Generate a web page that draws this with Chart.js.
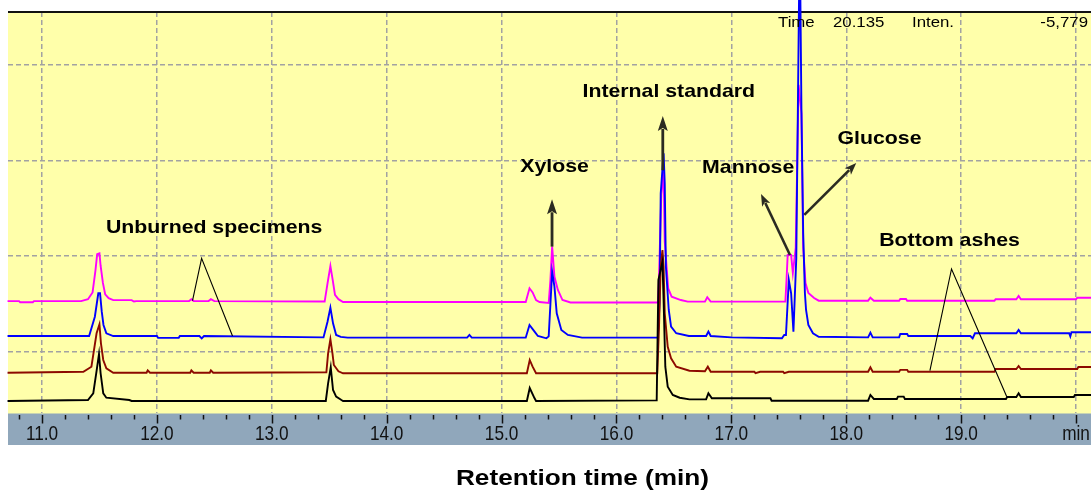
<!DOCTYPE html>
<html><head><meta charset="utf-8">
<script src="https://cdn.jsdelivr.net/npm/chart.js@4.4.1/dist/chart.umd.min.js"></script>
<style>html,body{margin:0;padding:0;background:#fff;}#wrap{width:1091px;height:491px;position:relative;}</style>
</head><body><div id="wrap"><canvas id="c"></canvas></div>
<script>
// ---- data (retention time in min, intensity in arbitrary units) ----
const pinkT = [10.70,10.80,10.81,10.92,10.93,11.34,11.40,11.44,11.465,11.48,11.50,11.51,11.53,11.55,11.58,11.62,11.78,11.80,11.82,12.28,12.30,12.32,12.45,12.47,12.50,13.46,13.485,13.51,13.53,13.55,13.58,13.62,15.21,15.243,15.27,15.30,15.33,15.41,15.425,15.44,15.46,15.49,15.53,15.60,16.36,16.37,16.39,16.41,16.42,16.45,16.48,16.56,16.62,16.77,16.79,16.82,17.47,17.48,17.49,17.52,17.535,17.56,17.585,17.61,17.625,17.645,17.67,17.72,17.76,18.19,18.21,18.24,18.46,18.47,18.52,18.53,19.29,19.30,19.48,19.50,19.52,20.00,20.01,20.13];
const pinkV = [153.0,153.0,151.8,151.8,153.0,153.0,155.0,162.0,185.0,202.0,203.0,190.0,172.0,160.0,156.0,154.0,154.0,152.5,153.0,153.0,155.0,153.0,153.0,155.0,153.0,152.5,171.6,189.7,175.1,159.4,155.0,152.0,152.0,166.4,162.0,154.0,152.0,151.0,175.0,210.0,178.5,164.6,154.1,151.5,151.5,176.9,264.1,288.5,215.2,166.4,157.6,154.1,152.4,152.4,157.0,152.4,152.4,175.1,201.3,201.3,182.4,208.6,379.3,350.0,208.6,171.9,161.5,156.2,153.4,153.4,156.5,153.4,153.4,155.2,155.2,153.4,153.4,154.9,154.9,158.3,154.9,154.9,156.5,156.5];

const blueT = [10.70,11.41,11.46,11.49,11.505,11.52,11.535,11.56,11.62,12.00,12.01,12.19,12.20,12.37,12.39,12.41,13.45,13.485,13.51,13.533,13.56,13.60,13.66,14.70,14.72,14.74,15.21,15.243,15.287,15.316,15.39,15.41,15.425,15.44,15.46,15.48,15.52,15.577,15.70,16.36,16.375,16.385,16.41,16.42,16.43,16.455,16.475,16.52,16.63,16.78,16.80,16.82,17.00,17.44,17.46,17.475,17.50,17.52,17.54,17.565,17.595,17.61,17.625,17.64,17.65,17.67,17.71,17.76,18.19,18.21,18.23,18.46,18.47,18.53,18.54,19.08,19.10,19.12,19.48,19.50,19.52,19.94,19.95,19.96,20.13];
const blueV = [116.4,116.4,136.6,161.2,161.2,141.9,128.0,119.3,116.4,116.4,114.5,114.5,116.4,116.4,114.0,116.4,115.0,131.4,146.1,129.7,117.5,115.5,114.7,114.7,117.5,114.7,114.7,128.0,121.0,116.4,114.0,116.0,150.0,183.8,168.1,140.2,122.7,117.5,114.7,114.7,150.7,265.9,307.7,276.3,189.0,143.7,126.2,119.3,116.4,116.4,121.0,116.4,115.0,114.0,117.5,117.5,175.1,161.2,120.9,198.1,540.0,350.0,224.3,161.2,143.7,128.0,119.3,115.7,115.0,119.9,115.0,115.0,118.5,118.5,116.4,116.4,114.0,119.3,119.3,122.7,119.3,119.3,116.0,120.3,120.3];

const redT = [10.70,11.36,11.43,11.475,11.50,11.513,11.533,11.56,11.62,11.91,11.92,11.94,12.29,12.30,12.32,12.46,12.47,12.49,13.475,13.49,13.51,13.528,13.54,13.58,13.62,15.22,15.245,15.27,15.30,16.355,16.37,16.385,16.40,16.41,16.42,16.446,16.475,16.52,16.635,16.77,16.795,16.82,17.20,17.21,17.25,17.45,17.46,17.50,18.19,18.21,18.23,18.46,18.47,18.53,18.54,19.29,19.30,19.48,19.50,19.52,20.01,20.02,20.13];
const redV = [78.0,79.0,84.3,119.3,128.7,108.8,91.3,82.6,78.0,78.0,80.5,78.0,78.0,80.5,78.0,78.0,80.5,78.0,78.5,98.3,113.0,98.3,86.1,79.5,77.4,77.4,91.3,84.3,77.4,77.4,125.0,190.0,206.5,189.0,140.2,105.2,93.1,84.3,80.1,79.5,84.3,79.0,79.0,77.5,79.0,79.0,77.5,79.0,79.0,83.7,79.0,79.0,81.0,81.0,79.0,79.0,81.9,81.9,85.0,81.9,81.9,84.0,84.0];

const blackT = [10.70,11.40,11.446,11.476,11.496,11.51,11.533,11.56,11.76,11.78,13.47,13.49,13.513,13.533,13.56,13.606,13.62,15.22,15.245,15.287,15.30,16.35,16.365,16.40,16.41,16.425,16.446,16.49,16.55,16.635,16.78,16.80,16.83,17.34,17.35,18.19,18.21,18.24,18.44,18.45,18.50,18.51,19.39,19.40,19.48,19.50,19.52,19.98,19.99,20.13];
const blackV = [48.4,49.4,56.4,80.8,97.6,77.4,56.4,51.8,49.4,48.4,48.4,66.9,83.7,59.9,52.9,49.4,48.4,48.4,62.0,51.2,48.4,49.0,175.1,194.0,154.1,84.3,63.4,54.7,51.8,50.1,50.1,56.4,51.2,51.2,48.7,48.7,54.7,50.5,50.5,52.9,52.9,50.5,50.5,52.6,52.6,56.4,52.6,52.6,54.7,54.7];

const tickValues = [11,12,13,14,15,16,17,18,19,20];
const tickLabels = ['11.0','12.0','13.0','14.0','15.0','16.0','17.0','18.0','19.0','min'];
const gridValuesY = [100,200,300,400];

const noteTexts = ['Unburned specimens','Xylose','Internal standard','Mannose','Glucose','Bottom ashes'];
const noteT = [11.557,15.163,15.704,16.745,17.924,18.287];
const noteV = [224.8,288.5,367.0,286.8,317.5,210.7];

const arrowFromT = [15.439,16.403,17.510,17.635];
const arrowFromV = [210.0,290.0,201.3,243.2];
const arrowToT   = [15.439,16.403,17.258,18.087];
const arrowToV   = [259.6,346.8,265.1,297.6];

// inverted-V leader lines: apex, left foot, right foot
const leaderApexT = [12.389,18.916], leaderApexV = [197.8,186.6];
const leaderLeftT = [12.310,18.728], leaderLeftV = [153.4,80.1];
const leaderRightT = [12.658,19.397], leaderRightV = [116.4,52.9];

const readoutTexts = ['Time','20.135','Inten.','-5,779'];

// ---- chart ----
const FAM = "'Liberation Sans', Arial, sans-serif";
Chart.defaults.font.family = FAM;
const pts = (T,V) => T.map((t,i)=>({x:t,y:V[i]}));

function sText(ctx, txt, x, y, font, sx, align){
  ctx.save(); ctx.font = font; ctx.textBaseline = 'alphabetic'; ctx.textAlign = 'left';
  const w = ctx.measureText(txt).width * sx;
  const left = align === 'center' ? x - w/2 : (align === 'right' ? x - w : x);
  ctx.translate(left, y); ctx.scale(sx, 1); ctx.fillText(txt, 0, 0); ctx.restore();
}
function arrow(ctx, x1, y1, x2, y2, lw, hl, hw){
  const a = Math.atan2(y2-y1, x2-x1);
  const bx = x2 - hl*Math.cos(a), by = y2 - hl*Math.sin(a);
  ctx.beginPath(); ctx.moveTo(x1,y1); ctx.lineTo(bx + 2*Math.cos(a), by + 2*Math.sin(a)); ctx.lineWidth = lw; ctx.stroke();
  ctx.beginPath(); ctx.moveTo(x2,y2);
  ctx.lineTo(bx + hw/2*Math.sin(a), by - hw/2*Math.cos(a));
  ctx.lineTo(bx + 3*Math.cos(a), by + 3*Math.sin(a));
  ctx.lineTo(bx - hw/2*Math.sin(a), by + hw/2*Math.cos(a));
  ctx.closePath(); ctx.fill();
}

const decor = {
  id: 'decor',
  beforeDraw(chart){
    const {ctx, chartArea: a} = chart;
    ctx.save();
    ctx.fillStyle = '#ffffaa';
    ctx.fillRect(a.left, a.top, a.right - a.left, a.bottom - a.top + 1);
    ctx.restore();
  },
  beforeDatasetsDraw(chart){
    const {ctx, chartArea: a} = chart;
    ctx.save();
    ctx.strokeStyle = '#111'; ctx.lineWidth = 1.8;
    ctx.beginPath(); ctx.moveTo(a.left, a.top); ctx.lineTo(a.right, a.top); ctx.stroke();
    ctx.restore();
  },
  afterDraw(chart){
    const {ctx, chartArea: a, scales: {x, y}} = chart;
    ctx.save();
    // axis band
    const bandTop = a.bottom + 0.5, bandBot = a.bottom + 32;
    ctx.fillStyle = '#90a7bb';
    ctx.fillRect(a.left, bandTop, a.right - a.left, bandBot - bandTop);
    // ticks
    ctx.strokeStyle = '#111'; ctx.lineWidth = 1.5;
    for (let k = 54; k <= 100; k++) {
      const v = k / 5;
      const px = Math.round(x.getPixelForValue(v)) + 0.5;
      if (px < a.left || px > a.right) continue;
      const major = (k % 5 === 0);
      ctx.beginPath(); ctx.moveTo(px, bandTop + 1.5); ctx.lineTo(px, bandTop + (major ? 10 : 6)); ctx.stroke();
    }
    // tick labels
    ctx.fillStyle = '#111';
    tickValues.forEach((v,i) => {
      sText(ctx, tickLabels[i], x.getPixelForValue(v), a.bottom + 27, "21px " + FAM, 0.82, 'center');
    });
    // x title
    ctx.fillStyle = '#000';
    sText(ctx, 'Retention time (min)', 582.5, 485, "bold 22px " + FAM, 1.19, 'center');
    // readout
    const ry = a.top + 15;
    sText(ctx, readoutTexts[0], 778, ry, "15px " + FAM, 1.12, 'left');
    sText(ctx, readoutTexts[1], 833, ry, "15px " + FAM, 1.12, 'left');
    sText(ctx, readoutTexts[2], 912, ry, "15px " + FAM, 1.12, 'left');
    sText(ctx, readoutTexts[3], 1088, ry, "15px " + FAM, 1.12, 'right');
    // labels
    noteTexts.forEach((t,i) => {
      sText(ctx, t, x.getPixelForValue(noteT[i]), y.getPixelForValue(noteV[i]), "bold 18.5px " + FAM, 1.15, 'left');
    });
    // arrows
    ctx.strokeStyle = '#2b2b22'; ctx.fillStyle = '#2b2b22'; ctx.lineCap = 'butt';
    arrowFromT.forEach((t,i) => {
      const vertical = arrowFromT[i] === arrowToT[i];
      arrow(ctx, x.getPixelForValue(t), y.getPixelForValue(arrowFromV[i]),
                 x.getPixelForValue(arrowToT[i]), y.getPixelForValue(arrowToV[i]),
                 vertical ? 2.8 : 2.6, vertical ? 15 : 12, vertical ? 10 : 9);
    });
    // leader lines
    ctx.strokeStyle = '#000'; ctx.lineWidth = 1.1;
    leaderApexT.forEach((t,i) => {
      ctx.beginPath();
      ctx.moveTo(x.getPixelForValue(leaderLeftT[i]), y.getPixelForValue(leaderLeftV[i]));
      ctx.lineTo(x.getPixelForValue(t), y.getPixelForValue(leaderApexV[i]));
      ctx.lineTo(x.getPixelForValue(leaderRightT[i]), y.getPixelForValue(leaderRightV[i]));
      ctx.stroke();
    });
    ctx.restore();
  }
};

const ds = (label, T, V, color) => ({
  label, data: pts(T,V), borderColor: color, backgroundColor: color,
  borderWidth: 1.9, pointRadius: 0, tension: 0, fill: false, clip: false,
  borderJoinStyle: 'miter'
});

const gridOpts = { drawTicks: false, color: '#a2a2a2', lineWidth: 1.5, tickLength: 0 };

new Chart(document.getElementById('c'), {
  type: 'line',
  data: { datasets: [
    ds('Bottom ashes 2', blackT, blackV, '#000000'),
    ds('Bottom ashes 1', redT, redV, '#8c0a00'),
    ds('Unburned 2', blueT, blueV, '#0000ff'),
    ds('Unburned 1', pinkT, pinkV, '#ff00ff')
  ]},
  options: {
    responsive: true, maintainAspectRatio: false, animation: false,
    layout: { padding: { left: 8, top: 12, right: 0, bottom: 78 } },
    plugins: { legend: { display: false }, tooltip: { enabled: false } },
    scales: {
      x: { type: 'linear', min: 10.704, max: 20.13,
           afterBuildTicks: s => { s.ticks = tickValues.map(v => ({value: v})); },
           afterFit: s => { s.height = 0; },
           ticks: { display: false },
           grid: gridOpts,
           border: { display: false, dash: [5,3] } },
      y: { type: 'linear', min: 35.8, max: 455.7,
           afterBuildTicks: s => { s.ticks = gridValuesY.map(v => ({value: v})); },
           afterFit: s => { s.width = 0; },
           ticks: { display: false },
           grid: gridOpts,
           border: { display: false, dash: [5,3] } }
    }
  },
  plugins: [decor]
});
</script>
</body></html>
